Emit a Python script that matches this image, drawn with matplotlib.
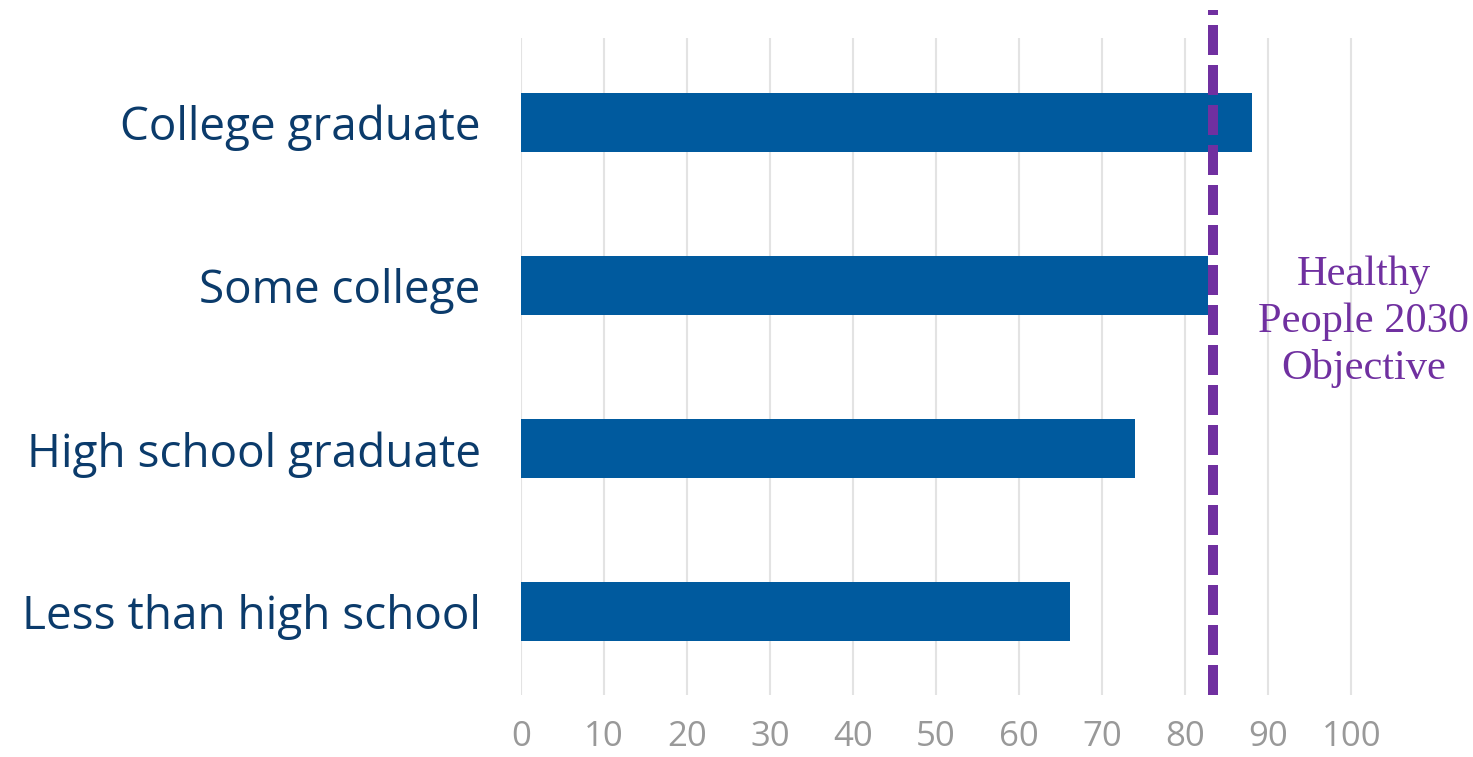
import matplotlib.pyplot as plt

# data
categories = ['Less than high school', 'High school graduate', 'Some college', 'College graduate']
values = [66.1, 74.0, 82.8, 88.0]
objective = 83.4
x_ticks = [0, 10, 20, 30, 40, 50, 60, 70, 80, 90, 100]
objective_label = 'Healthy\nPeople 2030\nObjective'

bar_color = '#005A9E'
label_color = '#0B3B6B'
tick_color = '#999999'
purple = '#7030A0'

fig = plt.figure(figsize=(14.73, 7.57), dpi=100)
ax = fig.add_axes([0.3537, 0.0819, 0.62, 0.868])

ypos = range(len(categories))
ax.barh(ypos, values, height=0.36, color=bar_color, zorder=2)

ax.set_xlim(0, 110)
ax.set_ylim(-0.51, 3.52)
ax.set_xticks(x_ticks)
ax.set_yticks(list(ypos))
ax.set_yticklabels(categories, fontsize=33, color=label_color, family='Open Sans')
ax.tick_params(axis='y', length=0, pad=29)
ax.tick_params(axis='x', length=0, pad=18, labelsize=25, labelcolor=tick_color)
for lab in ax.get_xticklabels():
    lab.set_family('Open Sans')

ax.grid(axis='x', color='#E3E3E3', linewidth=1.5, zorder=0)
for s in ax.spines.values():
    s.set_visible(False)

line = ax.axvline(objective, ymin=0, ymax=1.043, color=purple, linewidth=7.2,
                  linestyle=(0, (3, 1)), clip_on=False, zorder=3)
line.set_dash_capstyle('butt')

ax.text(101.5, 1.78, objective_label, ha='center', va='center', fontsize=30.5,
        color=purple, family='Liberation Serif', linespacing=1.27)

fig.savefig('out.png', dpi=100)
